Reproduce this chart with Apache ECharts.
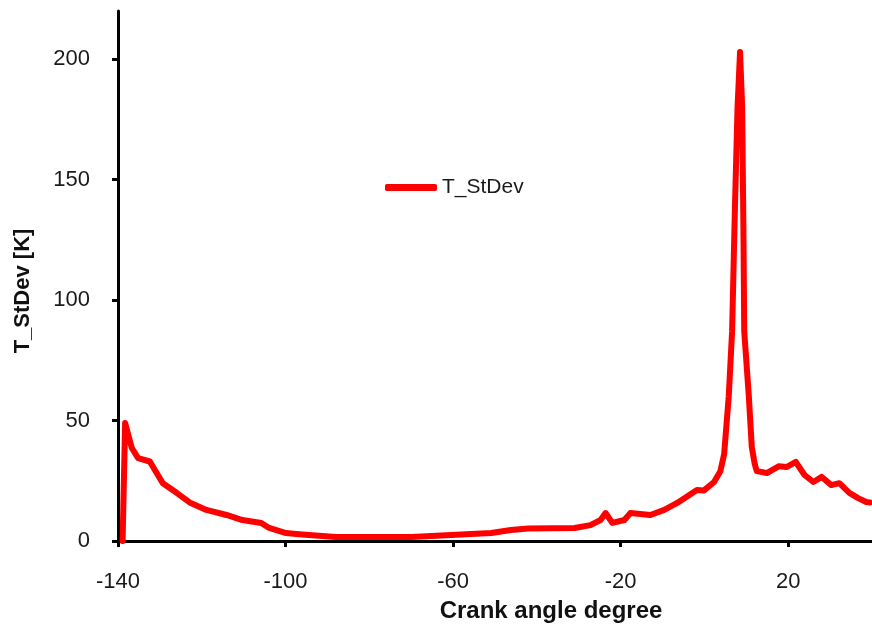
<!DOCTYPE html>
<html>
<head>
<meta charset="utf-8">
<script src="https://cdn.jsdelivr.net/npm/echarts@6/dist/echarts.min.js"></script>
<style>
  html, body { margin: 0; padding: 0; background: #fff; }
  #chart { width: 872px; height: 630px; }
</style>
</head>
<body>
<div id="chart"></div>
<script>
// crank angle (deg) and temperature standard deviation (K)
var angle = [-138.9, -138.3, -136.7, -135.2, -132.4, -131.2, -129.3, -126, -122.9, -118.9, -114.1, -110.3, -105.8, -103.9, -99.9,
  -96.8, -88, -70, -60.4, -50.9, -46.2, -42.1, -31, -27.2, -24.8, -23.6, -22, -19.1, -17.7, -12.9, -9.6, -6.5, -1.8,
  -0.1, 2.3, 3.8, 4.7, 5.8, 6.6, 7.3, 7.9, 8.5, 9.0, 9.3, 9.5, 10.6, 11.3, 12.0, 12.5, 14.9, 17.7, 19.6, 21.8, 23.9, 26, 28,
  30.3, 32.2, 34.6, 36.7, 38.6, 39.5];
var tStdev = [0, 49, 38.6, 34.4, 33, 29.5, 24, 20, 16, 12.9, 10.8, 8.7, 7.5, 5.4, 3.3,
  2.8, 1.7, 1.7, 2.5, 3.3, 4.6, 5.2, 5.4, 6.6, 8.7, 11.6, 7.5, 8.7, 11.6, 10.8, 12.9, 15.8, 21.2,
  21, 24.5, 29, 36, 60, 87, 140, 180, 203, 180, 130, 87, 60, 39, 32, 29, 28.2, 31, 30.7, 32.8, 27.4, 24.5, 26.6,
  23.2, 24, 20, 17.8, 16.2, 16];
var xTicks = [-140, -100, -60, -20, 20];
var yTicks = [0, 50, 100, 150, 200];

var points = angle.map(function (a, i) { return [a, tStdev[i]]; });

var chart = echarts.init(document.getElementById('chart'));
var labelFont = { fontFamily: 'Liberation Sans', fontSize: 22, color: '#1a1a1a' };
var option = {
  animation: false,
  grid: { left: 118, right: -4, top: 11, bottom: 89 },
  legend: {
    left: 380, top: 172,
    icon: 'roundRect', itemWidth: 52, itemHeight: 7,
    textStyle: { fontFamily: 'Liberation Sans', fontSize: 21, color: '#1a1a1a' },
    data: ['T_StDev']
  },
  xAxis: {
    type: 'value', min: -140, max: 40,
    name: 'Crank angle degree', nameLocation: 'middle', nameGap: 58,
    nameTextStyle: { fontFamily: 'Liberation Sans', fontWeight: 'bold', fontSize: 24, color: '#111', padding: [0, 0, 0, 112] },
    axisLine: { onZero: false, lineStyle: { color: '#000', width: 3 } },
    axisTick: { show: true, length: 6, inside: false, lineStyle: { color: '#000', width: 3 }, customValues: xTicks },
    axisLabel: Object.assign({ margin: 30, customValues: xTicks }, labelFont),
    splitLine: { show: false }
  },
  yAxis: {
    type: 'value', min: 0, max: 220,
    name: 'T_StDev [K]', nameLocation: 'middle', nameGap: 84,
    nameTextStyle: { fontFamily: 'Liberation Sans', fontWeight: 'bold', fontSize: 22, color: '#111', padding: [0, 30, 0, 0] },
    axisLine: { show: true, onZero: false, lineStyle: { color: '#000', width: 3 } },
    axisTick: { show: true, length: 6, inside: false, lineStyle: { color: '#000', width: 3 }, customValues: yTicks },
    axisLabel: Object.assign({ margin: 28, customValues: yTicks }, labelFont),
    splitLine: { show: false }
  },
  series: [{
    name: 'T_StDev',
    type: 'line',
    data: points,
    showSymbol: false,
    smooth: false,
    itemStyle: { color: '#ff0000' },
    lineStyle: { color: '#ff0000', width: 6, join: 'round', cap: 'round' }
  }]
};
chart.setOption(option);
</script>
</body>
</html>
